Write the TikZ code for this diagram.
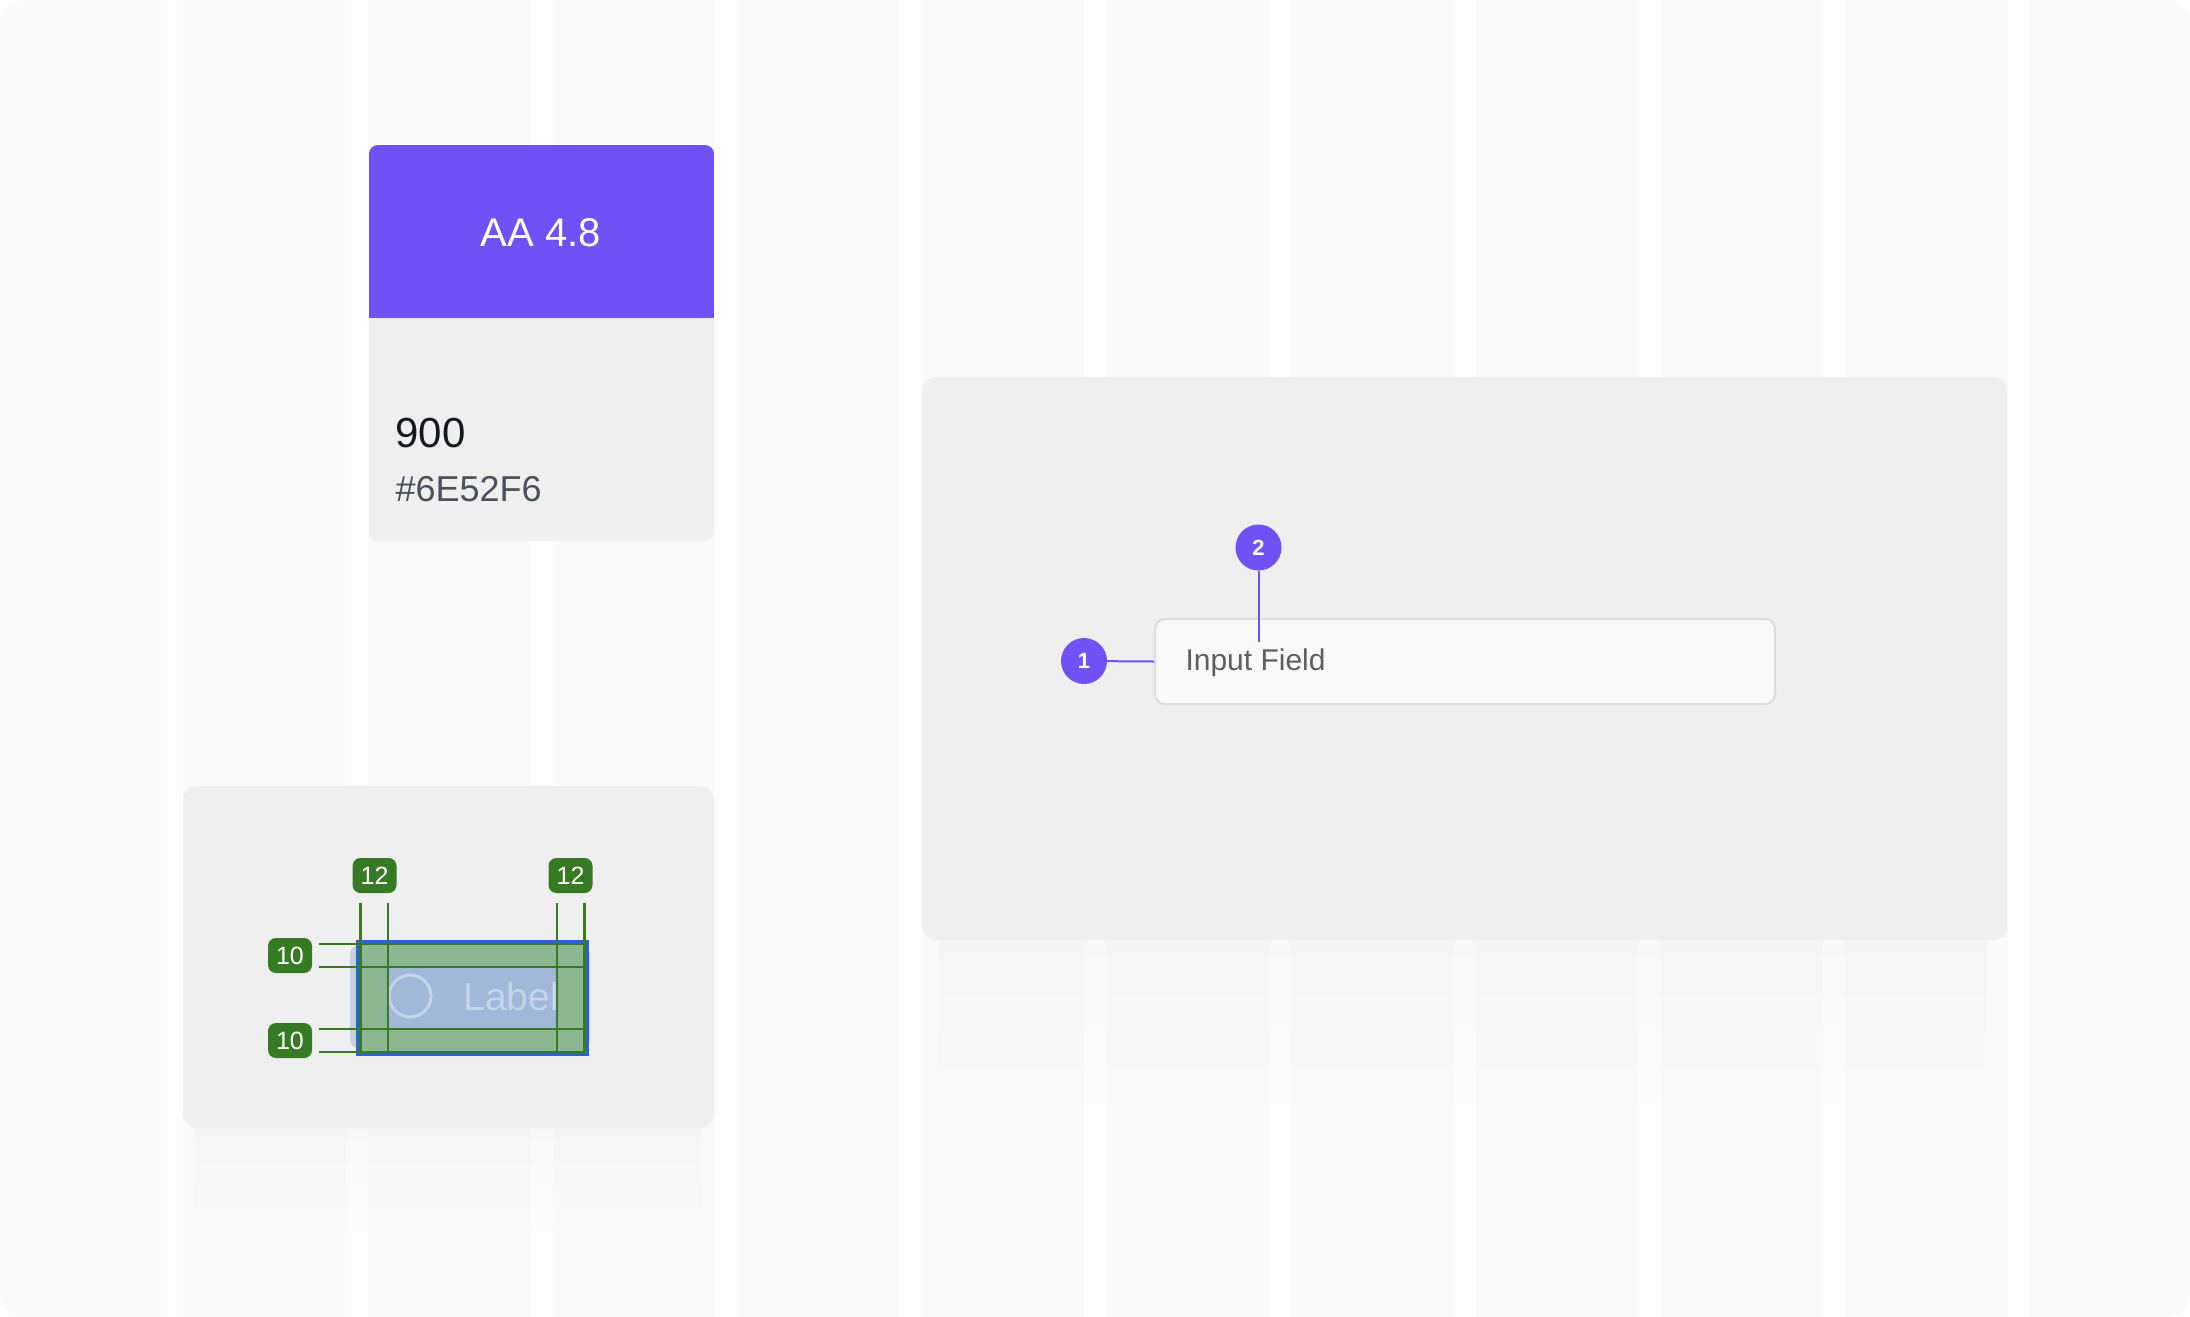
\documentclass[tikz,border=0pt]{standalone}
\usepackage{fontspec}
\setmainfont{Liberation Sans}
\usetikzlibrary{positioning, fadings}

\definecolor{bggrey}{HTML}{FAFAFA}
\definecolor{gutter}{HTML}{FDFDFD}
\definecolor{cardgrey}{HTML}{EFEFEF}
\definecolor{brand}{HTML}{6E52F6}
\definecolor{inkdark}{HTML}{15171C}
\definecolor{inkgrey}{HTML}{4B505A}
\definecolor{fieldfill}{HTML}{F9F9F9}
\definecolor{fieldline}{HTML}{DDDDDD}
\definecolor{fieldink}{HTML}{5E5E5E}
\definecolor{gapgreen}{HTML}{367A23}
\definecolor{padgreen}{HTML}{8CB592}
\definecolor{buttongrey}{HTML}{C9D0DB}
\definecolor{contentblue}{HTML}{A1B8D8}
\definecolor{iconline}{HTML}{C4D4EA}
\definecolor{outlineblue}{HTML}{2C62D8}

\begin{document}
\begin{tikzpicture}[
  x=1pt, y=-1pt,
  card/.style={fill=cardgrey, rounded corners=14pt},
  pin/.style={circle, fill=brand, text=white, minimum size=46pt, inner sep=0pt,
    font=\fontsize{22}{24}\selectfont\bfseries},
  gap/.style={fill=gapgreen, rounded corners=8pt, text=white, minimum width=44pt,
    minimum height=35pt, inner sep=0pt, font=\fontsize{25}{28}\selectfont},
  guide/.style={draw=gapgreen, line width=2.5pt},
  leader/.style={draw=brand, line width=2pt},
  field/.style={fill=fieldfill, draw=fieldline, line width=2pt, rounded corners=10pt}
]
\useasboundingbox (0,0) rectangle (2190,1317);

% Background grid
\fill[white] (0,0) rectangle (2190,1317);
\fill[bggrey, rounded corners=24pt] (0,0) rectangle (2190,1317);
\foreach \k in {0,...,10}
  \fill[gutter] ({160.6+184.7*\k},0) rectangle ({183.2+184.7*\k},1317);

% Colour swatch
\begin{scope}
  \clip[rounded corners=9pt] (369,145) rectangle (714,541);
  \fill[cardgrey] (369,145) rectangle (714,541);
  \fill[brand] (369,145) rectangle (714,318);
\end{scope}
\node[text=white, font=\fontsize{40}{48}\selectfont] (ratio) at (541,233) {AA 4.8};
\node[anchor=base west, text=inkdark, font=\fontsize{42}{48}\selectfont] (weight) at (392,447) {900};
\node[anchor=base west, text=inkgrey, font=\fontsize{36}{44}\selectfont] (hex) at (392,501) {\#6E52F6};

% Spacing card
\fill[black, opacity=0.02, path fading=south] (195,1128) rectangle (702,1240);
\fill[card] (183,786) rectangle (714,1128);
\fill[buttongrey, rounded corners=8pt] (350,946) rectangle (590,1048);
\fill[padgreen] (357.5,941.5) rectangle (587,1054);
\fill[contentblue] (389,967) rectangle (557,1029);
\draw[iconline, line width=3pt] (410,996) circle (21pt);
\node[anchor=base west, text=iconline, font=\fontsize{39}{46}\selectfont] (btnlabel) at (460,1010) {Label};
\draw[outlineblue, line width=3pt] (357.5,941.5) rectangle (587,1054);

% Padding guides
\foreach \x in {360.5,388,557,584.5}
  \draw[guide] (\x,903) -- (\x,1052);
\foreach \y in {944,967,1029,1052}
  \draw[guide] (319,\y) -- (584.5,\y);
\node[gap] (padleft) at (374.5,875.5) {12};
\node[gap] (padright) at (570.5,875.5) {12};
\node[gap] (padtop) at (290,955.5) {10};
\node[gap] (padbottom) at (290,1040.5) {10};

% Anatomy card
\fill[black, opacity=0.02, path fading=south] (940,940) rectangle (1989,1120);
\node[card, anchor=north west, minimum width=1085pt, minimum height=563pt] (stage) at (922,377) {};
\node[field, anchor=north west, minimum width=620pt, minimum height=85pt] (input) at (1154,618) {};
\node[anchor=base west, text=fieldink, font=\fontsize{30}{36}\selectfont] (inputtext) at (1182,670) {Input Field};

% Callouts
\node[pin] (pin1) at (1084,661) {1};
\node[pin] (pin2) at (1258.5,547.5) {2};
\coordinate (pin2end) at (1258.5,642);
\draw[leader] (pin1) -- (input.west);
\draw[leader] (pin2) -- (pin2end);

\end{tikzpicture}
\end{document}
